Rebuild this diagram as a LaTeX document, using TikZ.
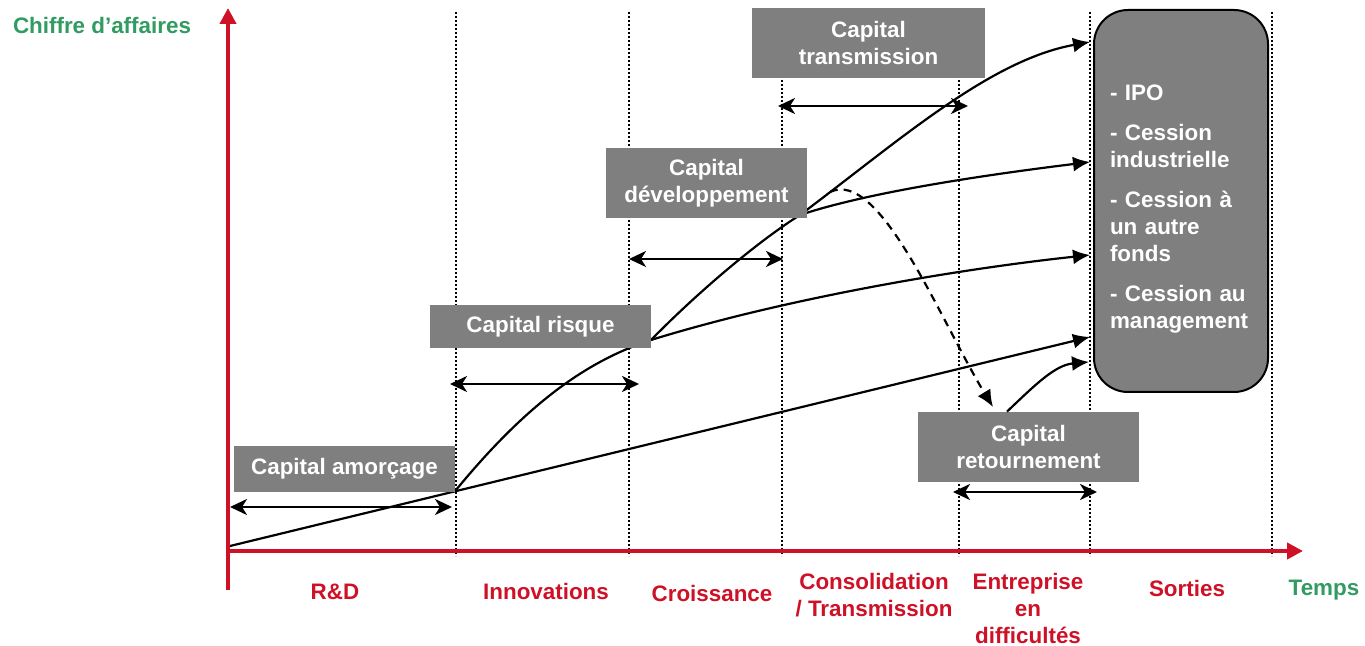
\documentclass[tikz,border=0pt]{standalone}
\usepackage{fontspec}
\setmainfont{Liberation Sans}
\usetikzlibrary{arrows.meta}
\definecolor{boxgray}{RGB}{127,127,127}
\definecolor{axisred}{RGB}{206,17,38}
\definecolor{labelgreen}{RGB}{49,155,97}
\begin{document}
\begin{tikzpicture}[x=0.5pt,y=-0.5pt,
  every node/.style={font=\bfseries\fontsize{11.2}{13.5}\selectfont,align=center,inner sep=0pt},
  phase/.style={fill=boxgray,text=white},
  stage/.style={text=axisred},
  limit/.style={black,line width=0.8pt,dash pattern=on 0.8pt off 1.2pt},
  span/.style={{Stealth[length=8.5pt,width=8pt,inset=2.5pt]}-{Stealth[length=8.5pt,width=8pt,inset=2.5pt]},line width=1.3pt},
  growth/.style={-{Latex[length=8.5pt,width=7.5pt]},line width=1.1pt},
  axis/.style={axisred,line width=2pt,-{Triangle[length=8pt,width=8pt]}}]
\useasboundingbox (0,0) rectangle (1365,646);
\foreach \x in {456,629,782,959,1090,1272}
  \draw[limit] (\x,12) -- (\x,556);
\coordinate (start) at (230,546);
\coordinate (seed) at (456,490);
\coordinate (fork1) at (651,340);
\coordinate (fork2) at (800,215);
\coordinate (endA) at (1090,337);
\coordinate (endB) at (1090,255);
\coordinate (endC) at (1090,162);
\coordinate (endD) at (1090,42);
\coordinate (fall) at (830,192);
\coordinate (land) at (993,407);
\coordinate (endE) at (1089,362);
\draw[growth] (start) -- (endA);
\draw[line width=1.1pt] (seed) .. controls (530,400) and (590,360) .. (fork1) .. controls (700,290) and (760,240) .. (fork2);
\draw[growth] (fork1) .. controls (780,300) and (950,270) .. (endB);
\draw[growth] (fork2) .. controls (860,195) and (960,178) .. (endC);
\draw[growth] (fork2) .. controls (900,140) and (990,60) .. (endD);
\draw[growth,dash pattern=on 4pt off 3pt] (fall) .. controls (880,168) and (940,320) .. (land);
\node[phase,minimum width=110.5pt,minimum height=23pt] (amorcage) at (344.5,469) {Capital amorçage};
\node[phase,minimum width=110.5pt,minimum height=21.5pt] (risque) at (540.5,326.5) {Capital risque};
\node[phase,minimum width=100.5pt,minimum height=35pt] (developpement) at (706.5,183) {Capital\\développement};
\node[phase,minimum width=116.5pt,minimum height=35pt] (transmission) at (868.5,43) {Capital\\transmission};
\node[phase,minimum width=110.5pt,minimum height=35pt] (retour) at (1028.5,447) {Capital\\retournement};
\node[phase,draw=black,line width=1pt,rounded corners=17pt,minimum width=87pt,minimum height=191pt] (sorties) at (1181,201) {};
\node[text=white,align=left,text width=71pt] (issues) at (1181,209)
  {- IPO\\[6.5pt]- Cession\\industrielle\\[6.5pt]- Cession à\\un autre\\fonds\\[6.5pt]- Cession au\\management};
\draw[growth] ([xshift=-10.75pt]retour.north) .. controls (1035,385) and (1055,365) .. (endE);
\foreach \a/\b/\y [count=\i] in {230/452/507,450/639/384,629/783/259,778/968/106,953/1097/492}{
  \coordinate (left\i) at (\a,\y);
  \coordinate (right\i) at (\b,\y);
  \draw[span] (left\i) -- (right\i);
}
\node[text=labelgreen] (ca) at (102,25) {Chiffre d’affaires};
\node[text=labelgreen] (temps) at (1324,590) {Temps};
\node[stage] (rd) at (335,592) {R\&D};
\node[stage] (innov) at (546,591) {Innovations};
\node[stage] (crois) at (712,593) {Croissance};
\node[stage] (conso) at (874,595.5) {Consolidation\\/ Transmission};
\node[stage] (diff) at (1028,608) {Entreprise\\en\\difficultés};
\node[stage] (sort) at (1187,588) {Sorties};
\coordinate (ybottom) at (228,590);
\coordinate (ytop) at (228,8);
\coordinate (xleft) at (226,551);
\coordinate (xright) at (1303,551);
\draw[axis] (ybottom) -- (ytop);
\draw[axis] (xleft) -- (xright);
\end{tikzpicture}
\end{document}
